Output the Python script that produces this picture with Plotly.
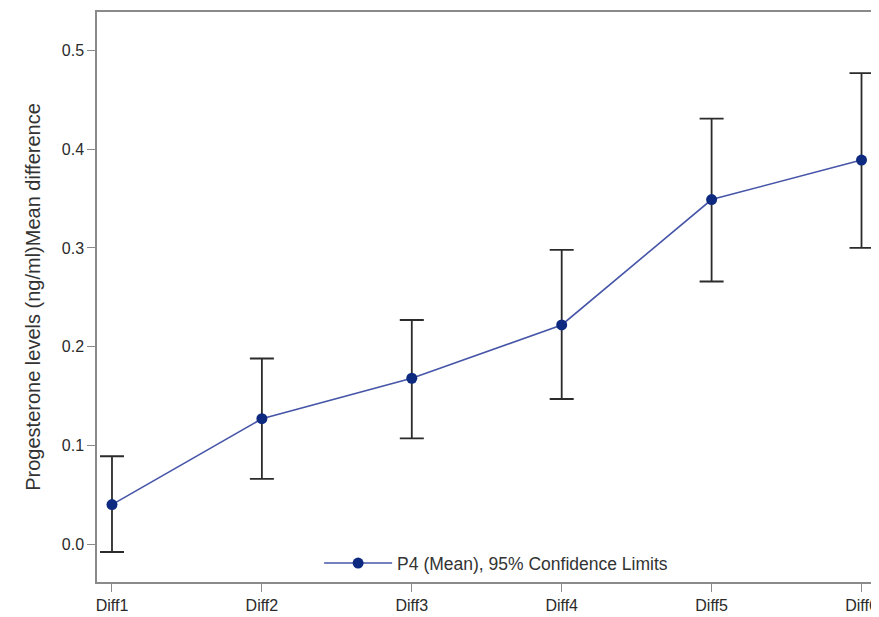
import plotly.graph_objects as go

categories = ["Diff1", "Diff2", "Diff3", "Diff4", "Diff5", "Diff6"]
mean_vals = [0.040, 0.127, 0.168, 0.222, 0.349, 0.389]
upper_cl = [0.089, 0.188, 0.227, 0.298, 0.431, 0.477]
lower_cl = [-0.008, 0.066, 0.107, 0.147, 0.266, 0.300]
y_ticks = [0.0, 0.1, 0.2, 0.3, 0.4, 0.5]

x_idx = list(range(len(categories)))
err_plus = [u - m for u, m in zip(upper_cl, mean_vals)]
err_minus = [m - l for m, l in zip(mean_vals, lower_cl)]

fig = go.Figure()
fig.add_trace(go.Scatter(
    x=x_idx, y=mean_vals, mode="lines+markers",
    name="P4 (Mean), 95% Confidence Limits",
    line=dict(color="#4655a8", width=1.6),
    marker=dict(color="#0d2a80", size=11),
    error_y=dict(type="data", symmetric=False, array=err_plus, arrayminus=err_minus,
                 color="#2b2b2b", thickness=1.8, width=12),
))

axis_common = dict(showline=True, linecolor="#8a8a8a", linewidth=1.5, mirror=True,
                   showgrid=False, zeroline=False, ticks="outside", tickcolor="#8a8a8a",
                   ticklen=8, tickwidth=1.2,
                   tickfont=dict(family="Liberation Sans, Arial", size=16, color="#2a2a2a"))

fig.update_layout(
    width=871, height=609,
    margin=dict(l=89, r=2, t=2, b=35),
    paper_bgcolor="white", plot_bgcolor="white",
    font=dict(family="Liberation Sans, Arial", color="#333333"),
    xaxis=dict(range=[-0.1, 5.09], tickmode="array", tickvals=x_idx, ticktext=categories,
               **axis_common),
    yaxis=dict(range=[-0.0384, 0.539], tickmode="array", tickvals=y_ticks,
               ticktext=[f"{v:.1f}" for v in y_ticks],
               title=dict(text="Progesterone levels (ng/ml)Mean difference",
                          font=dict(size=20, color="#333333"), standoff=16),
               **axis_common),
    showlegend=True,
    legend=dict(x=0.513, y=0.033, xanchor="center", yanchor="middle",
                bgcolor="rgba(0,0,0,0)", itemwidth=68,
                font=dict(size=17.5, color="#333333")),
)

fig.write_html("out.html")
